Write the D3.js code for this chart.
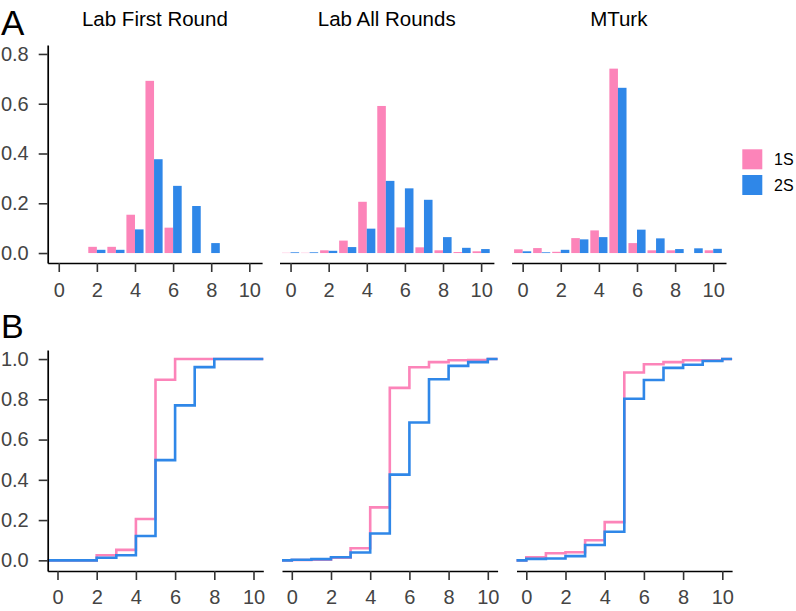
<!DOCTYPE html>
<html>
<head>
<meta charset="utf-8">
<script src="https://cdn.jsdelivr.net/npm/d3@7"></script>
<style>
  html, body { margin: 0; padding: 0; background: #fff; }
  svg { display: block; font-family: "Liberation Sans", Arial, Helvetica, sans-serif; }
  svg text { font-family: "Liberation Sans", Arial, Helvetica, sans-serif; }
</style>
</head>
<body>
<svg id="chart" width="796" height="611"></svg>
<script>
// ---------- data ----------
const xValues = [0, 1, 2, 3, 4, 5, 6, 7, 8, 9, 10];
const panelTitles = ["Lab First Round", "Lab All Rounds", "MTurk"];
const groups = ["1S", "2S"];
const groupColors = ["#fc84b9", "#2f87e8"];
const xTicks = [0, 2, 4, 6, 8, 10];
const yTicksHist = [0, 0.2, 0.4, 0.6, 0.8];
const yTicksCdf = [0, 0.2, 0.4, 0.6, 0.8, 1.0];

// panel A: share of offers at each value
const histLabFirst1S = [0, 0, 0.025, 0.025, 0.154, 0.692, 0.102, 0, 0, 0, 0];
const histLabFirst2S = [0, 0, 0.013, 0.013, 0.095, 0.377, 0.270, 0.189, 0.040, 0, 0];
const histLabAll1S   = [0.001, 0.001, 0.011, 0.050, 0.206, 0.591, 0.103, 0.023, 0.011, 0.004, 0.007];
const histLabAll2S   = [0.003, 0.003, 0.009, 0.024, 0.098, 0.290, 0.260, 0.214, 0.064, 0.021, 0.016];
const histMTurk1S    = [0.015, 0.020, 0.005, 0.060, 0.091, 0.741, 0.040, 0.011, 0.011, 0, 0.011];
const histMTurk2S    = [0.007, 0.003, 0.013, 0.055, 0.064, 0.664, 0.094, 0.059, 0.016, 0.019, 0.017];

// panel B: cumulative distributions
const cdfLabFirst1S = [0, 0, 0.025, 0.052, 0.205, 0.897, 1, 1, 1, 1, 1];
const cdfLabFirst2S = [0, 0, 0.013, 0.025, 0.121, 0.498, 0.770, 0.960, 1, 1, 1];
const cdfLabAll1S   = [0.002, 0.003, 0.013, 0.060, 0.263, 0.857, 0.959, 0.985, 0.994, 0.995, 1];
const cdfLabAll2S   = [0.003, 0.006, 0.015, 0.039, 0.133, 0.426, 0.685, 0.900, 0.966, 0.985, 1];
const cdfMTurk1S    = [0.015, 0.035, 0.040, 0.100, 0.190, 0.933, 0.974, 0.985, 0.994, 0.994, 1];
const cdfMTurk2S    = [0.007, 0.009, 0.021, 0.076, 0.142, 0.803, 0.896, 0.956, 0.972, 0.990, 1];

const histSeries = [[histLabFirst1S, histLabFirst2S], [histLabAll1S, histLabAll2S], [histMTurk1S, histMTurk2S]];
const cdfSeries  = [[cdfLabFirst1S, cdfLabFirst2S], [cdfLabAll1S, cdfLabAll2S], [cdfMTurk1S, cdfMTurk2S]];

// ---------- layout ----------
const svg = d3.select("#chart");
const tickColor = "#444444";
const tickFont = "20px";
const fontFam = '"Liberation Sans", Arial, Helvetica, sans-serif';

const topLefts = [47.7, 279.5, 511.6];
const topWidth = 214.4;
const topY = [263, 45];
const botLefts = [47.7, 282.0, 516.5];
const botWidth = 215.6;
const botY = [571, 350];

function styleAxis(g) {
  g.attr("font-family", fontFam).attr("font-size", 20);
  g.selectAll(".domain").attr("stroke", "#000").attr("stroke-width", 1.7);
  g.selectAll(".tick line").attr("stroke", "#333").attr("stroke-width", 1.6);
  g.selectAll(".tick text").attr("fill", tickColor)
    .style("font-size", tickFont).style("font-family", fontFam);
}

// Panel letters
svg.append("text").attr("x", 1).attr("y", 35).text("A")
  .style("font-size", "35px").attr("fill", "#000");
svg.append("text").attr("x", 1).attr("y", 338).text("B")
  .style("font-size", "34px").attr("fill", "#000");

const yHist = d3.scaleLinear().domain([-0.04, 0.836]).range(topY);
const yCdf = d3.scaleLinear().domain([-0.053, 1.045]).range(botY);

panelTitles.forEach((title, p) => {
  // ---- top: histograms ----
  const x = d3.scaleLinear().domain([-0.58, 10.67]).range([topLefts[p], topLefts[p] + topWidth]);
  const g = svg.append("g");
  const barW = 0.45;
  groups.forEach((grp, gi) => {
    g.selectAll(null)
      .data(xValues.map((v, i) => ({ v, val: histSeries[p][gi][i] })).filter(d => d.val > 0))
      .enter().append("rect")
      .attr("x", d => x(d.v + (gi === 0 ? -barW : 0)))
      .attr("width", d => x(d.v + barW) - x(d.v))
      .attr("y", d => yHist(d.val))
      .attr("height", d => yHist(0) - yHist(d.val))
      .attr("fill", groupColors[gi]);
  });
  const xa = svg.append("g").attr("transform", `translate(0,${topY[0]})`)
    .call(d3.axisBottom(x).tickValues(xTicks).tickSize(9).tickPadding(11).tickSizeOuter(0));
  styleAxis(xa);
  if (p === 0) {
    const ya = svg.append("g").attr("transform", `translate(${topLefts[0]},0)`)
      .call(d3.axisLeft(yHist).tickValues(yTicksHist).tickFormat(d3.format(".1f"))
        .tickSize(9).tickPadding(10).tickSizeOuter(0));
    styleAxis(ya);
  }
  svg.append("text")
    .attr("x", topLefts[p] + topWidth / 2).attr("y", 26)
    .attr("text-anchor", "middle").attr("fill", "#000")
    .style("font-size", "20.5px").text(title);

  // ---- bottom: cumulative step lines ----
  const xb = d3.scaleLinear().domain([-0.5, 10.5]).range([botLefts[p], botLefts[p] + botWidth]);
  const line = d3.line().x(d => xb(d[0])).y(d => yCdf(d[1])).curve(d3.curveStepAfter);
  groups.forEach((grp, gi) => {
    const c = cdfSeries[p][gi];
    const pts = [[-0.5, 0]].concat(xValues.map((v, i) => [v, c[i]])).concat([[10.5, c[c.length - 1]]]);
    svg.append("path").datum(pts)
      .attr("d", line).attr("fill", "none")
      .attr("stroke", groupColors[gi]).attr("stroke-width", 2.6);
  });
  const xba = svg.append("g").attr("transform", `translate(0,${botY[0]})`)
    .call(d3.axisBottom(xb).tickValues(xTicks).tickSize(9).tickPadding(10).tickSizeOuter(0));
  styleAxis(xba);
  if (p === 0) {
    const yba = svg.append("g").attr("transform", `translate(${botLefts[0]},0)`)
      .call(d3.axisLeft(yCdf).tickValues(yTicksCdf).tickFormat(d3.format(".1f"))
        .tickSize(9).tickPadding(10).tickSizeOuter(0));
    styleAxis(yba);
  }
});

// legend
const legend = svg.append("g");
groups.forEach((grp, gi) => {
  const ly = 149.3 + gi * 25.7;
  legend.append("rect").attr("x", 742.3).attr("y", ly).attr("width", 20).attr("height", 20)
    .attr("fill", groupColors[gi]);
  legend.append("text").attr("x", 774).attr("y", ly + 10).attr("dy", "0.36em")
    .attr("fill", "#000").style("font-size", "16px").text(grp);
});
</script>
</body>
</html>
